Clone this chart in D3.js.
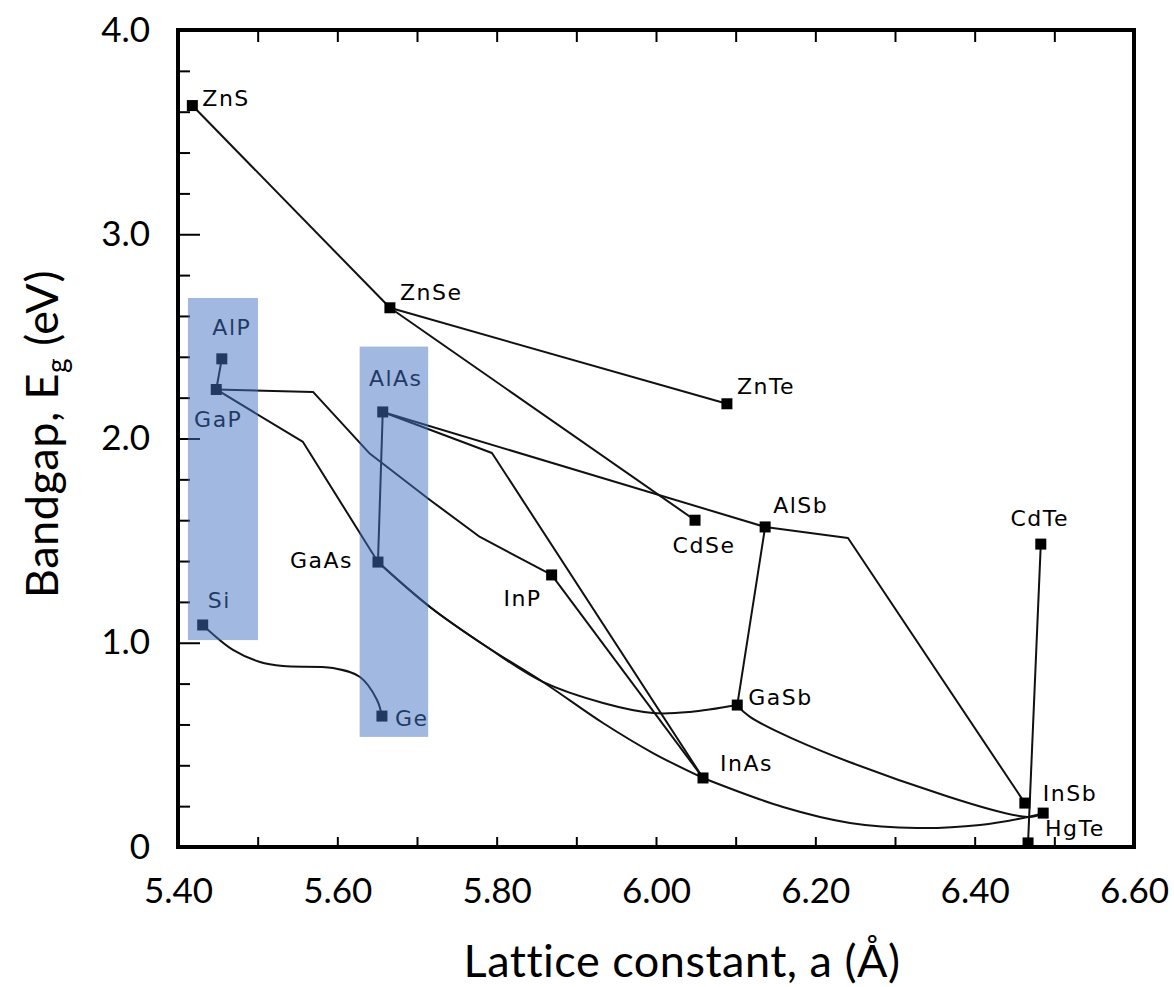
<!DOCTYPE html>
<html>
<head>
<meta charset="utf-8">
<script src="https://cdn.jsdelivr.net/npm/d3@7"></script>
<style>
  body { margin: 0; background: #fff; }
</style>
</head>
<body>
<script>

// compounds: lattice constant a (Å) and bandgap Eg (eV)
const compounds = ["ZnS", "ZnSe", "ZnTe", "AlP", "GaP", "AlAs", "GaAs", "Si", "Ge", "InP",
                   "CdSe", "AlSb", "CdTe", "GaSb", "InAs", "InSb", "HgTe"]
const latticeA  = [5.418, 5.666, 6.089, 5.455, 5.448, 5.657, 5.651, 5.431, 5.656, 5.869,
                   6.049, 6.137, 6.483, 6.102, 6.059, 6.463, 6.467]
const bandgapEg = [3.63, 2.64, 2.17, 2.39, 2.24, 2.13, 1.395, 1.087, 0.641, 1.332,
                   1.60, 1.567, 1.483, 0.695, 0.338, 0.215, 0.02]

// unlabeled marker where the InAs / GaSb curves end
const endPoint = [6.486, 0.166]

// alloy lines between compounds, via = bend points
const alloyLines = [
  { from: "ZnS",  to: "ZnSe", via: [], curve: "linear" },
  { from: "ZnSe", to: "ZnTe", via: [], curve: "linear" },
  { from: "ZnSe", to: "CdSe", via: [], curve: "linear" },
  { from: "AlP",  to: "GaP",  via: [], curve: "linear" },
  { from: "GaP",  to: "InP",  via: [[5.5695, 2.228], [5.641, 1.925], [5.7163, 1.699], [5.779, 1.518]], curve: "linear" },
  { from: "GaP",  to: "GaAs", via: [[5.5569, 1.983]], curve: "linear" },
  { from: "AlAs", to: "GaAs", via: [], curve: "linear" },
  { from: "AlAs", to: "AlSb", via: [], curve: "linear" },
  { from: "AlAs", to: "InAs", via: [[5.7941, 1.929]], curve: "linear" },
  { from: "InP",  to: "InAs", via: [], curve: "linear" },
  { from: "GaAs", to: "InAs", via: [[5.7163, 1.175], [5.7879, 0.979], [5.8581, 0.808], [5.9335, 0.607], [5.9962, 0.460]], curve: "smooth" },
  { from: "GaAs", to: "GaSb", via: [[5.7163, 1.175], [5.7879, 0.979], [5.8581, 0.808], [5.9335, 0.705], [5.9962, 0.656], [6.0427, 0.661]], curve: "smooth" },
  { from: "InAs", to: endPoint, via: [[6.1594, 0.196], [6.2435, 0.118], [6.3276, 0.093], [6.4067, 0.108], [6.4669, 0.147]], curve: "smooth" },
  { from: "GaSb", to: endPoint, via: [[6.118, 0.637], [6.2435, 0.415], [6.4669, 0.147]], curve: "smooth" },
  { from: "AlSb", to: "InSb", via: [[6.241, 1.513]], curve: "linear" },
  { from: "AlSb", to: "GaSb", via: [], curve: "linear" },
  { from: "CdTe", to: "HgTe", via: [], curve: "linear" },
  { from: "Si",   to: "Ge",   via: [[5.469, 0.965], [5.5029, 0.906], [5.5318, 0.886], [5.5946, 0.876], [5.6285, 0.832], [5.6498, 0.720]], curve: "smooth" }
]

// blue highlight bands (a range, Eg range)
const bandA  = [[5.4125, 5.5004], [5.628, 5.714]]
const bandEg = [[1.013, 2.688], [0.539, 2.45]]

// axis ticks
const xMajorTicks = [5.40, 5.60, 5.80, 6.00, 6.20, 6.40, 6.60]
const xTickLabels = ["5.40", "5.60", "5.80", "6.00", "6.20", "6.40", "6.60"]
const xMinorTicks = [5.50, 5.70, 5.90, 6.10, 6.30, 6.50]
const yMajorTicks = [0, 1, 2, 3, 4]
const yTickLabels = ["0", "1.0", "2.0", "3.0", "4.0"]
const yMinorTicks = [0.2, 0.4, 0.6, 0.8, 1.2, 1.4, 1.6, 1.8, 2.2, 2.4, 2.6, 2.8, 3.2, 3.4, 3.6, 3.8]

// label placement next to each marker (pixels)
const labelPos = {
  ZnS:  [10, 0, "start"],   ZnSe: [10, -8, "start"],  ZnTe: [10, -10, "start"],
  AlP:  [10, -24, "middle"], GaP: [2, 38, "middle"],  AlAs: [13, -26, "middle"],
  GaAs: [-25, 6, "end"],    Si:   [5, -17, "start"],  Ge:   [13, 10, "start"],
  InP:  [-10, 31, "end"],   CdSe: [9, 33, "middle"],  AlSb: [8, -14, "start"],
  CdTe: [-1, -18, "middle"], GaSb: [11, 0, "start"],  InAs: [17, -7, "start"],
  InSb: [18, -2, "start"],  HgTe: [17, -7, "start"]
}

const m = { width: 1174, height: 987, left: 178, right: 1134, top: 30, bottom: 847 }

const svg = d3.select("body").append("svg")
    .attr("width", m.width)
    .attr("height", m.height)

const x = d3.scaleLinear().domain([5.40, 6.60]).range([m.left, m.right])
const y = d3.scaleLinear().domain([0, 4]).range([m.bottom, m.top])

const g = svg.append("g")

const pos = {}
compounds.forEach((c, i) => { pos[c] = [latticeA[i], bandgapEg[i]] })
const pt = p => typeof p === "string" ? pos[p] : p

// axes (ticks point inward)
const allX = xMajorTicks.concat(xMinorTicks)
const tickStyle = sel => {
    sel.select(".domain").remove()
    sel.selectAll("line").attr("stroke", "#000").attr("stroke-width", 2)
    sel.selectAll("text").attr("fill", "#000")
        .style("font-family", "Lato, 'Open Sans', sans-serif")
        .style("font-size", "35px")
}

g.append("g")
    .attr("transform", `translate(0,${m.bottom})`)
    .call(d3.axisBottom(x).tickValues(allX).tickSize(-10).tickPadding(31)
        .tickFormat(d => {
            const k = xMajorTicks.indexOf(d)
            return k >= 0 ? xTickLabels[k] : ""
        }))
    .call(tickStyle)

g.append("g")
    .attr("transform", `translate(0,${m.top})`)
    .call(d3.axisTop(x).tickValues(allX).tickSize(-12).tickFormat(""))
    .call(tickStyle)

g.append("g")
    .attr("transform", `translate(${m.left},0)`)
    .call(d3.axisLeft(y).tickValues(yMajorTicks).tickSize(-22).tickPadding(28)
        .tickFormat((d, i) => yTickLabels[i]))
    .call(tickStyle)

g.append("g")
    .attr("transform", `translate(${m.left},0)`)
    .call(d3.axisLeft(y).tickValues(yMinorTicks).tickSize(-12).tickFormat(""))
    .call(tickStyle)

// frame
g.append("rect")
    .attr("x", m.left)
    .attr("y", m.top)
    .attr("width", m.right - m.left)
    .attr("height", m.bottom - m.top)
    .attr("fill", "none")
    .attr("stroke", "#000")
    .attr("stroke-width", 4)

// alloy lines
const lineGen = d3.line().x(d => x(d[0])).y(d => y(d[1]))

g.selectAll(".alloy")
    .data(alloyLines)
    .enter()
    .append("path")
        .attr("class", "alloy")
        .attr("fill", "none")
        .attr("stroke", "#111")
        .attr("stroke-width", 2)
        .attr("stroke-linejoin", "round")
        .attr("d", d => {
            const pts = [pt(d.from)].concat(d.via, [pt(d.to)])
            return lineGen.curve(d.curve === "smooth" ? d3.curveCatmullRom.alpha(0.5) : d3.curveLinear)(pts)
        })

// markers
const markerData = compounds.map(c => pos[c]).concat([endPoint])
g.selectAll(".marker")
    .data(markerData)
    .enter()
    .append("rect")
        .attr("class", "marker")
        .attr("x", d => x(d[0]) - 5.5)
        .attr("y", d => y(d[1]) - 5.5)
        .attr("width", 11)
        .attr("height", 11)
        .attr("fill", "#000")

// compound labels
g.selectAll(".label")
    .data(compounds)
    .enter()
    .append("text")
        .attr("class", "label")
        .attr("x", c => x(pos[c][0]) + labelPos[c][0])
        .attr("y", c => y(pos[c][1]) + labelPos[c][1])
        .attr("text-anchor", c => labelPos[c][2])
        .style("font-family", "'DejaVu Sans', Verdana, sans-serif")
        .style("font-size", "22px")
        .style("letter-spacing", "1.5px")
        .attr("fill", "#000")
        .text(c => c)

// translucent blue bands on top
g.selectAll(".band")
    .data(bandA)
    .enter()
    .append("rect")
        .attr("class", "band")
        .attr("x", d => x(d[0]))
        .attr("width", d => x(d[1]) - x(d[0]))
        .attr("y", (d, i) => y(bandEg[i][1]))
        .attr("height", (d, i) => y(bandEg[i][0]) - y(bandEg[i][1]))
        .attr("fill", "#4472c4")
        .attr("opacity", 0.5)

// axis titles
svg.append("text")
    .attr("x", 682)
    .attr("y", 977)
    .attr("text-anchor", "middle")
    .style("font-family", "Lato, 'Open Sans', sans-serif")
    .style("font-size", "45px")
    .style("letter-spacing", "0.5px")
    .text("Lattice constant, a (Å)")

const yTitle = svg.append("text")
    .attr("transform", "translate(58,434) rotate(-90)")
    .attr("text-anchor", "middle")
    .style("font-family", "Lato, 'Open Sans', sans-serif")
    .style("font-size", "45px")
    .style("letter-spacing", "0.5px")
yTitle.append("tspan").text("Bandgap, E")
yTitle.append("tspan").attr("dy", 9).style("font-size", "28px").text("g")
yTitle.append("tspan").attr("dy", -9).text(" (eV)")

</script>
</body>
</html>
